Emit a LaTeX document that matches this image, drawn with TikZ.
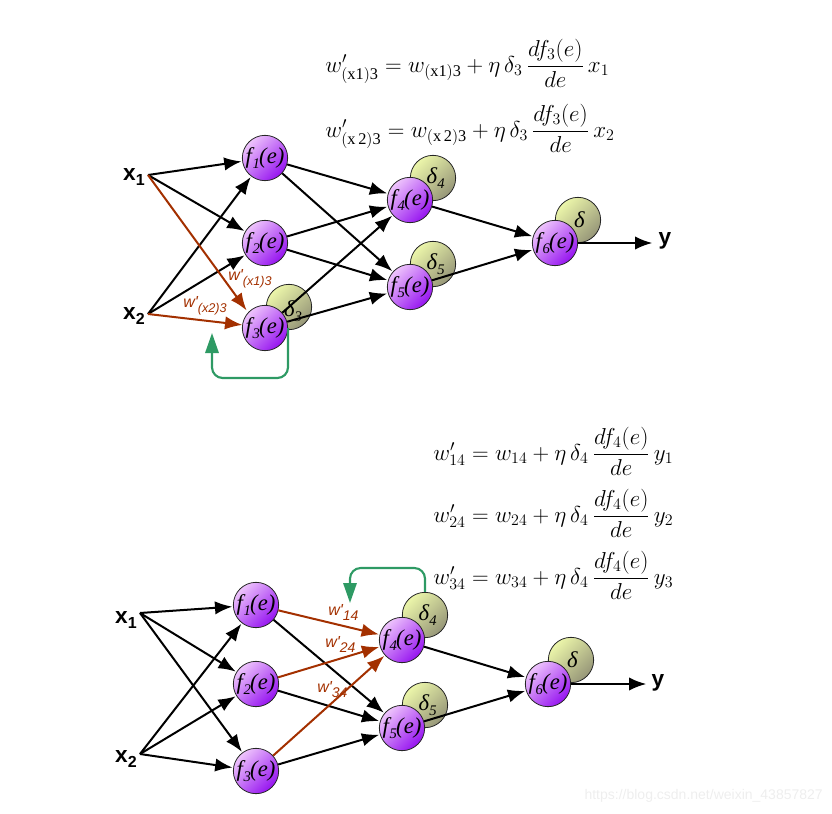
\documentclass[tikz,border=0pt]{standalone}
\usepackage{amsmath}
\usepackage{fontspec}
\setmainfont{Liberation Serif}
\newfontfamily\arial{Liberation Sans}
\usetikzlibrary{arrows.meta}
\definecolor{plight}{RGB}{238,196,252}
\definecolor{pdark}{RGB}{150,20,240}
\definecolor{dlight}{RGB}{236,246,170}
\definecolor{ddark}{RGB}{150,150,120}
\definecolor{wbrown}{RGB}{163,48,0}
\definecolor{lgreen}{RGB}{46,154,100}
\definecolor{wmark}{RGB}{238,238,238}
\newcommand{\fe}[1]{f\kern0.5pt\raisebox{-0.45ex}{\fontsize{11}{11}\selectfont #1}\kern-0.5pt(e)}
\newcommand{\dl}[1]{δ\raisebox{-0.45ex}{\fontsize{11}{11}\selectfont #1}}
\begin{document}
\begin{tikzpicture}[x=0.75pt,y=-0.75pt,
  fnode/.style={circle,draw=black!85,line width=0.6pt,minimum size=34pt,inner sep=0pt,
    top color=plight,bottom color=pdark,shading angle=45,font=\itshape\fontsize{17}{17}\selectfont},
  dnode/.style={circle,draw=black!85,line width=0.6pt,minimum size=34pt,inner sep=0pt,
    top color=dlight,bottom color=ddark,shading angle=45,font=\itshape\fontsize{17}{17}\selectfont},
  arr/.style={-{Latex[length=13pt,width=10pt]},line width=1.5pt,shorten >=0.5pt},
  barr/.style={arr,draw=wbrown,color=wbrown},
  garr/.style={-{Triangle[length=15pt,width=10pt]},line width=1.6pt,draw=lgreen,color=lgreen,rounded corners=8pt},
  inlab/.style={font=\arial\bfseries\fontsize{17}{17}\selectfont,inner sep=0pt},
  wlab/.style={anchor=base west,inner sep=0pt,text=wbrown,font=\arial\itshape\fontsize{12}{12}\selectfont},
  eq/.style={anchor=base west,inner sep=0pt,font=\fontsize{17.5}{20}\selectfont}
]
\useasboundingbox (0,0) rectangle (832,814);

% ---------------- top network ----------------
\node[eq] (eqa) at (325,72) {$w'_{\mathrm{(x1)3}} = w_{\mathrm{(x1)3}} + \eta\,\delta_3\,\dfrac{df_3(e)}{de}\,x_1$};
\node[eq] (eqb) at (325,137) {$w'_{\mathrm{(x\,2)3}} = w_{\mathrm{(x\,2)3}} + \eta\,\delta_3\,\dfrac{df_3(e)}{de}\,x_2$};

\node[inlab,anchor=east] (tx1) at (145,177) {x\raisebox{-0.35ex}{\fontsize{12}{12}\selectfont 1}};
\node[inlab,anchor=east] (tx2) at (145,316) {x\raisebox{-0.35ex}{\fontsize{12}{12}\selectfont 2}};
\coordinate (tx1o) at (148,175);
\coordinate (tx2o) at (148,314);

\node[dnode] (td3) at (289,307) {};
\node[dnode] (td4) at (433,178) {\hspace*{4pt}\dl{4}};
\node[dnode] (td5) at (433,264) {\hspace*{4pt}\dl{5}};
\node[dnode] (td6) at (578,220) {\hspace*{2pt}δ};
\node[font=\itshape\fontsize{17}{17}\selectfont] (td3t) at (293,311) {\dl{3}};

\node[fnode] (tf1) at (265,158) {\fe{1}};
\node[fnode] (tf2) at (265,243) {\fe{2}};
\node[fnode] (tf4) at (410,200) {\fe{4}};
\node[fnode] (tf5) at (410,287) {\fe{5}};
\node[fnode] (tf6) at (555,243) {\fe{6}};
\coordinate (tyo) at (653,243);
\node[inlab] (ty) at (665,241) {y};

\draw[arr] (tx1o) -- (tf1);
\draw[arr] (tx1o) -- (tf2);
\draw[arr] (tx2o) -- (tf1);
\draw[arr] (tx2o) -- (tf2);
\coordinate (tb1) at (247,311);
\coordinate (tb2) at (243,325);
\draw[barr] (tx1o) -- (tb1);
\draw[barr] (tx2o) -- (tb2);
\node[fnode] (tf3) at (265,328) {\fe{3}};
\draw[arr] (tf1) -- (tf4);
\draw[arr] (tf1) -- (tf5);
\draw[arr] (tf2) -- (tf4);
\draw[arr] (tf2) -- (tf5);
\draw[arr] (tf3) -- (tf4);
\draw[arr] (tf3) -- (tf5);
\draw[arr] (tf4) -- (tf6);
\draw[arr] (tf5) -- (tf6);
\draw[arr] (tf6) -- (tyo);

\node[wlab] (twa) at (228,280) {w'\raisebox{-0.7ex}{\fontsize{9.5}{9.5}\selectfont (x1)3}};
\node[wlab] (twb) at (183,307) {w'\raisebox{-0.7ex}{\fontsize{9.5}{9.5}\selectfont (x2)3}};

\coordinate (tg2) at (212,333);
\draw[garr] (tf3.east) -- (288,378) -- (212,378) -- (tg2);

% ---------------- bottom network ----------------
\node[eq] (eqc) at (433,460) {$w'_{14} = w_{14} + \eta\,\delta_4\,\dfrac{df_4(e)}{de}\,y_1$};
\node[eq] (eqd) at (433,522) {$w'_{24} = w_{24} + \eta\,\delta_4\,\dfrac{df_4(e)}{de}\,y_2$};
\node[eq] (eqe) at (433,584) {$w'_{34} = w_{34} + \eta\,\delta_4\,\dfrac{df_4(e)}{de}\,y_3$};

\node[inlab,anchor=east] (bx1) at (137,620) {x\raisebox{-0.35ex}{\fontsize{12}{12}\selectfont 1}};
\node[inlab,anchor=east] (bx2) at (137,759) {x\raisebox{-0.35ex}{\fontsize{12}{12}\selectfont 2}};
\coordinate (bx1o) at (140,613);
\coordinate (bx2o) at (140,754);

\node[dnode] (bd4) at (425,615) {\hspace*{4pt}\dl{4}};
\node[dnode] (bd5) at (425,705) {\hspace*{4pt}\dl{5}};
\node[dnode] (bd6) at (571,660) {\hspace*{2pt}δ};

\node[fnode] (bf1) at (256,605) {\fe{1}};
\node[fnode] (bf2) at (256,684) {\fe{2}};
\node[fnode] (bf3) at (256,771) {\fe{3}};
\node[fnode] (bf4) at (402,640) {\fe{4}};
\node[fnode] (bf5) at (402,728) {\fe{5}};
\node[fnode] (bf6) at (548,684) {\fe{6}};
\coordinate (byo) at (647,684);
\node[inlab] (by) at (658,683) {y};

\draw[arr] (bx1o) -- (bf1);
\draw[arr] (bx1o) -- (bf2);
\draw[arr] (bx1o) -- (bf3);
\draw[arr] (bx2o) -- (bf1);
\draw[arr] (bx2o) -- (bf2);
\draw[arr] (bx2o) -- (bf3);
\draw[arr] (bf1) -- (bf5);
\draw[arr] (bf2) -- (bf5);
\draw[arr] (bf3) -- (bf5);
\draw[barr] (bf1) -- (bf4);
\draw[barr] (bf2) -- (bf4);
\draw[barr] (bf3) -- (bf4);
\draw[arr] (bf4) -- (bf6);
\draw[arr] (bf5) -- (bf6);
\draw[arr] (bf6) -- (byo);

\node[wlab] (bwa) at (328,615) {w'\raisebox{-0.7ex}{\fontsize{10.5}{10.5}\selectfont 14}};
\node[wlab] (bwb) at (325,647) {w'\raisebox{-0.7ex}{\fontsize{10.5}{10.5}\selectfont 24}};
\node[wlab] (bwc) at (317,692) {w'\raisebox{-0.7ex}{\fontsize{10.5}{10.5}\selectfont 34}};

\coordinate (bg2) at (350,603);
\draw[garr] (bd4.north) -- (425,568) -- (350,568) -- (bg2);

\node[anchor=east,inner sep=0pt,text=wmark,font=\arial\fontsize{10.5}{11}\selectfont] (wm) at (823,796) {https://blog.csdn.net/weixin\_43857827};
\end{tikzpicture}
\end{document}
